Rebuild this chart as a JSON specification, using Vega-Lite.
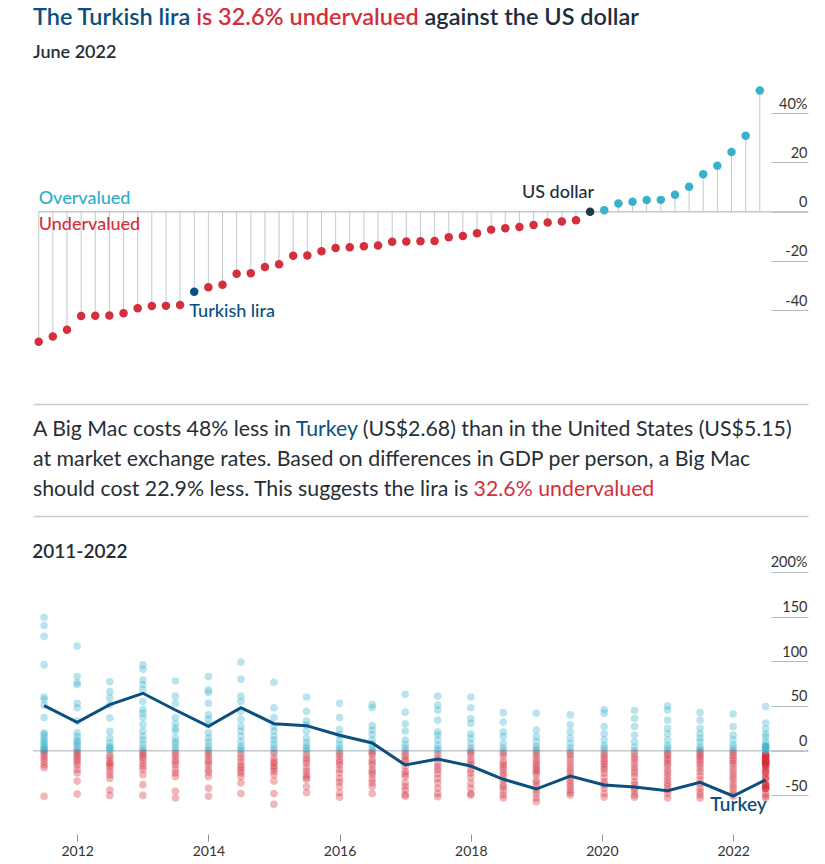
{
  "$schema": "https://vega.github.io/schema/vega-lite/v6.json",
  "padding": {"left": 32, "right": 18, "top": 0, "bottom": 0},
  "autosize": {"type": "pad"},
  "bounds": "flush",
  "spacing": 0,
  "config": {
    "view": {"stroke": null},
    "font": "Lato",
    "axis": {"grid": false, "title": null}
  },
  "datasets": {
    "june": [
      {"rank": 1, "value": -52.9}, {"rank": 2, "value": -50.8}, {"rank": 3, "value": -48.0},
      {"rank": 4, "value": -42.4}, {"rank": 5, "value": -42.3}, {"rank": 6, "value": -42.2},
      {"rank": 7, "value": -41.3}, {"rank": 8, "value": -39.3}, {"rank": 9, "value": -38.4},
      {"rank": 10, "value": -38.3}, {"rank": 11, "value": -37.9},
      {"rank": 12, "value": -32.6, "currency": "Turkish lira"},
      {"rank": 13, "value": -30.7}, {"rank": 14, "value": -29.7}, {"rank": 15, "value": -25.2},
      {"rank": 16, "value": -25.0}, {"rank": 17, "value": -22.5}, {"rank": 18, "value": -21.4},
      {"rank": 19, "value": -17.9}, {"rank": 20, "value": -17.8}, {"rank": 21, "value": -16.1},
      {"rank": 22, "value": -14.8}, {"rank": 23, "value": -14.5}, {"rank": 24, "value": -14.1},
      {"rank": 25, "value": -13.8}, {"rank": 26, "value": -12.2}, {"rank": 27, "value": -12.1},
      {"rank": 28, "value": -12.0}, {"rank": 29, "value": -11.9}, {"rank": 30, "value": -10.4},
      {"rank": 31, "value": -9.9}, {"rank": 32, "value": -8.8}, {"rank": 33, "value": -7.3},
      {"rank": 34, "value": -6.7}, {"rank": 35, "value": -6.2}, {"rank": 36, "value": -5.4},
      {"rank": 37, "value": -4.4}, {"rank": 38, "value": -4.0}, {"rank": 39, "value": -3.5},
      {"rank": 40, "value": 0, "currency": "US dollar"},
      {"rank": 41, "value": 0.6}, {"rank": 42, "value": 3.3}, {"rank": 43, "value": 4.0},
      {"rank": 44, "value": 4.7}, {"rank": 45, "value": 4.8}, {"rank": 46, "value": 6.9},
      {"rank": 47, "value": 10.1}, {"rank": 48, "value": 15.2}, {"rank": 49, "value": 18.7},
      {"rank": 50, "value": 24.3}, {"rank": 51, "value": 30.9}, {"rank": 52, "value": 49.3}
    ],
    "turkey": [
      {"date": "2011-07-01", "value": 50.4}, {"date": "2012-01-01", "value": 31.7},
      {"date": "2012-07-01", "value": 51.5}, {"date": "2013-01-01", "value": 64.2},
      {"date": "2013-07-01", "value": 45.5}, {"date": "2014-01-01", "value": 27.2},
      {"date": "2014-07-01", "value": 48.1}, {"date": "2015-01-01", "value": 30.2},
      {"date": "2015-07-01", "value": 28.0}, {"date": "2016-01-01", "value": 17.2},
      {"date": "2016-07-01", "value": 8.6}, {"date": "2017-01-01", "value": -16.0},
      {"date": "2017-07-01", "value": -9.3}, {"date": "2018-01-01", "value": -17.2},
      {"date": "2018-07-01", "value": -32.0}, {"date": "2019-01-01", "value": -42.9},
      {"date": "2019-07-09", "value": -28.4}, {"date": "2020-01-14", "value": -38.4},
      {"date": "2020-07-01", "value": -40.7}, {"date": "2021-01-01", "value": -44.8},
      {"date": "2021-07-01", "value": -35.4}, {"date": "2022-01-01", "value": -50.7},
      {"date": "2022-07-01", "value": -32.6, "label": "Turkey"}
    ],
    "history": [
      {"date":"2011-07-01","value":149},{"date":"2011-07-01","value":140},{"date":"2011-07-01","value":128},{"date":"2011-07-01","value":96},{"date":"2011-07-01","value":60},{"date":"2011-07-01","value":57},{"date":"2011-07-01","value":51},{"date":"2011-07-01","value":37},{"date":"2011-07-01","value":20},{"date":"2011-07-01","value":18},{"date":"2011-07-01","value":15},{"date":"2011-07-01","value":12},{"date":"2011-07-01","value":10},{"date":"2011-07-01","value":7},{"date":"2011-07-01","value":5},{"date":"2011-07-01","value":3},{"date":"2011-07-01","value":1},{"date":"2011-07-01","value":0},{"date":"2011-07-01","value":0},{"date":"2011-07-01","value":-3},{"date":"2011-07-01","value":-6},{"date":"2011-07-01","value":-9},{"date":"2011-07-01","value":-12},{"date":"2011-07-01","value":-16},{"date":"2011-07-01","value":-19},{"date":"2011-07-01","value":-51},
      {"date":"2012-01-01","value":117},{"date":"2012-01-01","value":83},{"date":"2012-01-01","value":76},{"date":"2012-01-01","value":74},{"date":"2012-01-01","value":53},{"date":"2012-01-01","value":48},{"date":"2012-01-01","value":33},{"date":"2012-01-01","value":20},{"date":"2012-01-01","value":16},{"date":"2012-01-01","value":12},{"date":"2012-01-01","value":10},{"date":"2012-01-01","value":8},{"date":"2012-01-01","value":5},{"date":"2012-01-01","value":2},{"date":"2012-01-01","value":0},{"date":"2012-01-01","value":-2},{"date":"2012-01-01","value":-4.5},{"date":"2012-01-01","value":-7.5},{"date":"2012-01-01","value":-10},{"date":"2012-01-01","value":-13},{"date":"2012-01-01","value":-16},{"date":"2012-01-01","value":-21},{"date":"2012-01-01","value":-25},{"date":"2012-01-01","value":-34},{"date":"2012-01-01","value":-48.5},
      {"date":"2012-07-01","value":77},{"date":"2012-07-01","value":66},{"date":"2012-07-01","value":59},{"date":"2012-07-01","value":51.5},{"date":"2012-07-01","value":36.6},{"date":"2012-07-01","value":21.6},{"date":"2012-07-01","value":14},{"date":"2012-07-01","value":8.6},{"date":"2012-07-01","value":5},{"date":"2012-07-01","value":3},{"date":"2012-07-01","value":2},{"date":"2012-07-01","value":0},{"date":"2012-07-01","value":-5},{"date":"2012-07-01","value":-8},{"date":"2012-07-01","value":-12},{"date":"2012-07-01","value":-14},{"date":"2012-07-01","value":-16},{"date":"2012-07-01","value":-19},{"date":"2012-07-01","value":-23},{"date":"2012-07-01","value":-27},{"date":"2012-07-01","value":-31},{"date":"2012-07-01","value":-44},{"date":"2012-07-01","value":-50},
      {"date":"2013-01-01","value":96},{"date":"2013-01-01","value":91},{"date":"2013-01-01","value":79},{"date":"2013-01-01","value":74},{"date":"2013-01-01","value":68},{"date":"2013-01-01","value":55},{"date":"2013-01-01","value":46},{"date":"2013-01-01","value":42},{"date":"2013-01-01","value":37},{"date":"2013-01-01","value":29},{"date":"2013-01-01","value":21.6},{"date":"2013-01-01","value":16},{"date":"2013-01-01","value":12},{"date":"2013-01-01","value":7},{"date":"2013-01-01","value":3},{"date":"2013-01-01","value":0},{"date":"2013-01-01","value":-2},{"date":"2013-01-01","value":-4.5},{"date":"2013-01-01","value":-7},{"date":"2013-01-01","value":-10},{"date":"2013-01-01","value":-14},{"date":"2013-01-01","value":-17.5},{"date":"2013-01-01","value":-21},{"date":"2013-01-01","value":-27},{"date":"2013-01-01","value":-38},{"date":"2013-01-01","value":-50},
      {"date":"2013-07-01","value":78},{"date":"2013-07-01","value":61},{"date":"2013-07-01","value":53},{"date":"2013-07-01","value":37},{"date":"2013-07-01","value":30},{"date":"2013-07-01","value":25},{"date":"2013-07-01","value":21.6},{"date":"2013-07-01","value":14},{"date":"2013-07-01","value":10},{"date":"2013-07-01","value":7},{"date":"2013-07-01","value":3},{"date":"2013-07-01","value":0},{"date":"2013-07-01","value":-3},{"date":"2013-07-01","value":-6},{"date":"2013-07-01","value":-10},{"date":"2013-07-01","value":-13},{"date":"2013-07-01","value":-16},{"date":"2013-07-01","value":-21},{"date":"2013-07-01","value":-25},{"date":"2013-07-01","value":-29},{"date":"2013-07-01","value":-45.5},{"date":"2013-07-01","value":-53},
      {"date":"2014-01-01","value":83},{"date":"2014-01-01","value":68},{"date":"2014-01-01","value":65},{"date":"2014-01-01","value":53},{"date":"2014-01-01","value":40},{"date":"2014-01-01","value":35},{"date":"2014-01-01","value":29},{"date":"2014-01-01","value":20},{"date":"2014-01-01","value":14},{"date":"2014-01-01","value":10},{"date":"2014-01-01","value":5},{"date":"2014-01-01","value":2},{"date":"2014-01-01","value":0},{"date":"2014-01-01","value":-3},{"date":"2014-01-01","value":-6},{"date":"2014-01-01","value":-10},{"date":"2014-01-01","value":-13},{"date":"2014-01-01","value":-16},{"date":"2014-01-01","value":-21},{"date":"2014-01-01","value":-24},{"date":"2014-01-01","value":-29},{"date":"2014-01-01","value":-42},{"date":"2014-01-01","value":-51},
      {"date":"2014-07-01","value":99},{"date":"2014-07-01","value":80},{"date":"2014-07-01","value":61},{"date":"2014-07-01","value":55},{"date":"2014-07-01","value":44},{"date":"2014-07-01","value":35},{"date":"2014-07-01","value":27},{"date":"2014-07-01","value":22},{"date":"2014-07-01","value":16},{"date":"2014-07-01","value":10},{"date":"2014-07-01","value":5},{"date":"2014-07-01","value":2},{"date":"2014-07-01","value":0},{"date":"2014-07-01","value":-4},{"date":"2014-07-01","value":-8},{"date":"2014-07-01","value":-12},{"date":"2014-07-01","value":-16},{"date":"2014-07-01","value":-19},{"date":"2014-07-01","value":-22},{"date":"2014-07-01","value":-25},{"date":"2014-07-01","value":-29},{"date":"2014-07-01","value":-36},{"date":"2014-07-01","value":-48},
      {"date":"2015-01-01","value":76.5},{"date":"2015-01-01","value":48},{"date":"2015-01-01","value":37},{"date":"2015-01-01","value":27},{"date":"2015-01-01","value":22},{"date":"2015-01-01","value":16},{"date":"2015-01-01","value":12},{"date":"2015-01-01","value":7},{"date":"2015-01-01","value":3},{"date":"2015-01-01","value":0},{"date":"2015-01-01","value":-3},{"date":"2015-01-01","value":-8},{"date":"2015-01-01","value":-12},{"date":"2015-01-01","value":-14},{"date":"2015-01-01","value":-17.5},{"date":"2015-01-01","value":-20},{"date":"2015-01-01","value":-23},{"date":"2015-01-01","value":-27},{"date":"2015-01-01","value":-34},{"date":"2015-01-01","value":-48},{"date":"2015-01-01","value":-60},
      {"date":"2015-07-01","value":60},{"date":"2015-07-01","value":44},{"date":"2015-07-01","value":33},{"date":"2015-07-01","value":29},{"date":"2015-07-01","value":22},{"date":"2015-07-01","value":14},{"date":"2015-07-01","value":9},{"date":"2015-07-01","value":5},{"date":"2015-07-01","value":2},{"date":"2015-07-01","value":0},{"date":"2015-07-01","value":-4},{"date":"2015-07-01","value":-8},{"date":"2015-07-01","value":-11},{"date":"2015-07-01","value":-14},{"date":"2015-07-01","value":-19},{"date":"2015-07-01","value":-23},{"date":"2015-07-01","value":-27},{"date":"2015-07-01","value":-30},{"date":"2015-07-01","value":-32},{"date":"2015-07-01","value":-40},{"date":"2015-07-01","value":-47},
      {"date":"2016-01-01","value":53},{"date":"2016-01-01","value":37},{"date":"2016-01-01","value":23.5},{"date":"2016-01-01","value":18},{"date":"2016-01-01","value":12},{"date":"2016-01-01","value":7},{"date":"2016-01-01","value":3},{"date":"2016-01-01","value":0},{"date":"2016-01-01","value":-3},{"date":"2016-01-01","value":-6},{"date":"2016-01-01","value":-10},{"date":"2016-01-01","value":-13},{"date":"2016-01-01","value":-16},{"date":"2016-01-01","value":-21},{"date":"2016-01-01","value":-25},{"date":"2016-01-01","value":-31},{"date":"2016-01-01","value":-35},{"date":"2016-01-01","value":-40},{"date":"2016-01-01","value":-47},{"date":"2016-01-01","value":-52},
      {"date":"2016-07-01","value":51.5},{"date":"2016-07-01","value":48},{"date":"2016-07-01","value":28},{"date":"2016-07-01","value":23},{"date":"2016-07-01","value":18},{"date":"2016-07-01","value":12},{"date":"2016-07-01","value":7},{"date":"2016-07-01","value":3},{"date":"2016-07-01","value":0},{"date":"2016-07-01","value":-2},{"date":"2016-07-01","value":-4.5},{"date":"2016-07-01","value":-10},{"date":"2016-07-01","value":-13},{"date":"2016-07-01","value":-16},{"date":"2016-07-01","value":-21},{"date":"2016-07-01","value":-24},{"date":"2016-07-01","value":-27},{"date":"2016-07-01","value":-32},{"date":"2016-07-01","value":-36},{"date":"2016-07-01","value":-40},{"date":"2016-07-01","value":-48},
      {"date":"2017-01-01","value":63},{"date":"2017-01-01","value":43},{"date":"2017-01-01","value":30},{"date":"2017-01-01","value":22},{"date":"2017-01-01","value":12},{"date":"2017-01-01","value":7},{"date":"2017-01-01","value":3},{"date":"2017-01-01","value":0},{"date":"2017-01-01","value":-3},{"date":"2017-01-01","value":-6},{"date":"2017-01-01","value":-10},{"date":"2017-01-01","value":-12},{"date":"2017-01-01","value":-17.5},{"date":"2017-01-01","value":-23},{"date":"2017-01-01","value":-26},{"date":"2017-01-01","value":-29},{"date":"2017-01-01","value":-36},{"date":"2017-01-01","value":-40},{"date":"2017-01-01","value":-44},{"date":"2017-01-01","value":-49},{"date":"2017-01-01","value":-51},
      {"date":"2017-07-01","value":61},{"date":"2017-07-01","value":51},{"date":"2017-07-01","value":45.5},{"date":"2017-07-01","value":34},{"date":"2017-07-01","value":21},{"date":"2017-07-01","value":17.5},{"date":"2017-07-01","value":12},{"date":"2017-07-01","value":6},{"date":"2017-07-01","value":2},{"date":"2017-07-01","value":0},{"date":"2017-07-01","value":-4},{"date":"2017-07-01","value":-8.6},{"date":"2017-07-01","value":-14},{"date":"2017-07-01","value":-18},{"date":"2017-07-01","value":-21.6},{"date":"2017-07-01","value":-26},{"date":"2017-07-01","value":-31},{"date":"2017-07-01","value":-36},{"date":"2017-07-01","value":-42},{"date":"2017-07-01","value":-48},{"date":"2017-07-01","value":-51.5},
      {"date":"2018-01-01","value":60},{"date":"2018-01-01","value":48},{"date":"2018-01-01","value":36},{"date":"2018-01-01","value":30.6},{"date":"2018-01-01","value":19},{"date":"2018-01-01","value":14},{"date":"2018-01-01","value":8},{"date":"2018-01-01","value":3},{"date":"2018-01-01","value":0},{"date":"2018-01-01","value":-2},{"date":"2018-01-01","value":-5},{"date":"2018-01-01","value":-10},{"date":"2018-01-01","value":-13},{"date":"2018-01-01","value":-16},{"date":"2018-01-01","value":-21.6},{"date":"2018-01-01","value":-25},{"date":"2018-01-01","value":-30},{"date":"2018-01-01","value":-36.6},{"date":"2018-01-01","value":-42},{"date":"2018-01-01","value":-48},{"date":"2018-01-01","value":-49.6},
      {"date":"2018-07-01","value":42.5},{"date":"2018-07-01","value":32},{"date":"2018-07-01","value":21},{"date":"2018-07-01","value":15.7},{"date":"2018-07-01","value":8},{"date":"2018-07-01","value":3},{"date":"2018-07-01","value":0},{"date":"2018-07-01","value":-3},{"date":"2018-07-01","value":-6},{"date":"2018-07-01","value":-12},{"date":"2018-07-01","value":-15},{"date":"2018-07-01","value":-18},{"date":"2018-07-01","value":-21},{"date":"2018-07-01","value":-25},{"date":"2018-07-01","value":-28},{"date":"2018-07-01","value":-33},{"date":"2018-07-01","value":-38},{"date":"2018-07-01","value":-41},{"date":"2018-07-01","value":-45},{"date":"2018-07-01","value":-49.6},{"date":"2018-07-01","value":-53},
      {"date":"2019-01-01","value":42},{"date":"2019-01-01","value":23},{"date":"2019-01-01","value":15.7},{"date":"2019-01-01","value":10},{"date":"2019-01-01","value":4.5},{"date":"2019-01-01","value":2},{"date":"2019-01-01","value":0},{"date":"2019-01-01","value":-3},{"date":"2019-01-01","value":-6},{"date":"2019-01-01","value":-10},{"date":"2019-01-01","value":-13},{"date":"2019-01-01","value":-16},{"date":"2019-01-01","value":-19},{"date":"2019-01-01","value":-21.6},{"date":"2019-01-01","value":-24},{"date":"2019-01-01","value":-27},{"date":"2019-01-01","value":-33},{"date":"2019-01-01","value":-36},{"date":"2019-01-01","value":-40},{"date":"2019-01-01","value":-44},{"date":"2019-01-01","value":-48},{"date":"2019-01-01","value":-53},{"date":"2019-01-01","value":-57},
      {"date":"2019-07-09","value":40},{"date":"2019-07-09","value":29},{"date":"2019-07-09","value":21},{"date":"2019-07-09","value":14},{"date":"2019-07-09","value":8},{"date":"2019-07-09","value":3},{"date":"2019-07-09","value":0},{"date":"2019-07-09","value":-3},{"date":"2019-07-09","value":-6},{"date":"2019-07-09","value":-10},{"date":"2019-07-09","value":-14},{"date":"2019-07-09","value":-18},{"date":"2019-07-09","value":-21.6},{"date":"2019-07-09","value":-25},{"date":"2019-07-09","value":-29},{"date":"2019-07-09","value":-33},{"date":"2019-07-09","value":-36.6},{"date":"2019-07-09","value":-40},{"date":"2019-07-09","value":-44},{"date":"2019-07-09","value":-47},{"date":"2019-07-09","value":-49.6},
      {"date":"2020-01-14","value":46},{"date":"2020-01-14","value":42},{"date":"2020-01-14","value":27},{"date":"2020-01-14","value":19},{"date":"2020-01-14","value":12},{"date":"2020-01-14","value":6},{"date":"2020-01-14","value":3},{"date":"2020-01-14","value":0},{"date":"2020-01-14","value":-3},{"date":"2020-01-14","value":-6},{"date":"2020-01-14","value":-9},{"date":"2020-01-14","value":-12},{"date":"2020-01-14","value":-15},{"date":"2020-01-14","value":-18},{"date":"2020-01-14","value":-21},{"date":"2020-01-14","value":-25},{"date":"2020-01-14","value":-30},{"date":"2020-01-14","value":-34.7},{"date":"2020-01-14","value":-38},{"date":"2020-01-14","value":-42},{"date":"2020-01-14","value":-48},{"date":"2020-01-14","value":-52},
      {"date":"2020-07-01","value":45},{"date":"2020-07-01","value":36},{"date":"2020-07-01","value":27},{"date":"2020-07-01","value":17.5},{"date":"2020-07-01","value":10},{"date":"2020-07-01","value":4},{"date":"2020-07-01","value":0},{"date":"2020-07-01","value":-3},{"date":"2020-07-01","value":-7},{"date":"2020-07-01","value":-10},{"date":"2020-07-01","value":-14},{"date":"2020-07-01","value":-18},{"date":"2020-07-01","value":-21.6},{"date":"2020-07-01","value":-25},{"date":"2020-07-01","value":-29},{"date":"2020-07-01","value":-34.7},{"date":"2020-07-01","value":-38},{"date":"2020-07-01","value":-42},{"date":"2020-07-01","value":-45},{"date":"2020-07-01","value":-49.6},{"date":"2020-07-01","value":-52},
      {"date":"2021-01-01","value":50},{"date":"2021-01-01","value":45.5},{"date":"2021-01-01","value":34},{"date":"2021-01-01","value":25},{"date":"2021-01-01","value":19},{"date":"2021-01-01","value":12},{"date":"2021-01-01","value":6},{"date":"2021-01-01","value":3},{"date":"2021-01-01","value":0},{"date":"2021-01-01","value":-3},{"date":"2021-01-01","value":-5},{"date":"2021-01-01","value":-8.6},{"date":"2021-01-01","value":-11},{"date":"2021-01-01","value":-14},{"date":"2021-01-01","value":-17},{"date":"2021-01-01","value":-21.6},{"date":"2021-01-01","value":-25},{"date":"2021-01-01","value":-29},{"date":"2021-01-01","value":-33},{"date":"2021-01-01","value":-36.6},{"date":"2021-01-01","value":-40},{"date":"2021-01-01","value":-44},{"date":"2021-01-01","value":-48},{"date":"2021-01-01","value":-53},
      {"date":"2021-07-01","value":42.5},{"date":"2021-07-01","value":34},{"date":"2021-07-01","value":25},{"date":"2021-07-01","value":19},{"date":"2021-07-01","value":14},{"date":"2021-07-01","value":10},{"date":"2021-07-01","value":4.5},{"date":"2021-07-01","value":2},{"date":"2021-07-01","value":0},{"date":"2021-07-01","value":-2},{"date":"2021-07-01","value":-5},{"date":"2021-07-01","value":-7},{"date":"2021-07-01","value":-10},{"date":"2021-07-01","value":-13},{"date":"2021-07-01","value":-16},{"date":"2021-07-01","value":-20},{"date":"2021-07-01","value":-23.5},{"date":"2021-07-01","value":-28},{"date":"2021-07-01","value":-33},{"date":"2021-07-01","value":-37},{"date":"2021-07-01","value":-42},{"date":"2021-07-01","value":-46},{"date":"2021-07-01","value":-49.6},{"date":"2021-07-01","value":-53},
      {"date":"2022-01-01","value":41},{"date":"2022-01-01","value":27},{"date":"2022-01-01","value":17.5},{"date":"2022-01-01","value":12},{"date":"2022-01-01","value":6},{"date":"2022-01-01","value":3},{"date":"2022-01-01","value":0},{"date":"2022-01-01","value":-2},{"date":"2022-01-01","value":-5},{"date":"2022-01-01","value":-8.6},{"date":"2022-01-01","value":-11},{"date":"2022-01-01","value":-14},{"date":"2022-01-01","value":-17},{"date":"2022-01-01","value":-21.6},{"date":"2022-01-01","value":-25},{"date":"2022-01-01","value":-29},{"date":"2022-01-01","value":-32},{"date":"2022-01-01","value":-36.6},{"date":"2022-01-01","value":-40},{"date":"2022-01-01","value":-44},{"date":"2022-01-01","value":-48},{"date":"2022-01-01","value":-51}
    ]
  },
  "vconcat": [
    {
      "width": 775,
      "height": 71,
      "encoding": {
        "x": {"datum": 0, "type": "quantitative", "scale": {"domain": [0, 1]}, "axis": null},
        "y": {"field": "row", "type": "ordinal", "scale": {"type": "point", "domain": ["title", "subtitle"], "padding": 0.514}, "axis": null},
        "text": {"field": "text"}
      },
      "layer": [
        {
          "data": {"values": [{"row": "title", "text": "The Turkish lira is 32.6% undervalued against the US dollar"}]},
          "mark": {"type": "text", "align": "left", "baseline": "middle", "fontSize": 23.5, "fontWeight": 600, "color": "#1f2e3a"}
        },
        {
          "data": {"values": [{"row": "title", "text": "The Turkish lira is 32.6% undervalued"}]},
          "mark": {"type": "text", "align": "left", "baseline": "middle", "fontSize": 23.5, "fontWeight": 600, "color": "#ffffff", "stroke": "#ffffff", "strokeWidth": 2.5}
        },
        {
          "data": {"values": [{"row": "title", "text": "The Turkish lira is 32.6% undervalued"}]},
          "mark": {"type": "text", "align": "left", "baseline": "middle", "fontSize": 23.5, "fontWeight": 600, "color": "#d32f3c"}
        },
        {
          "data": {"values": [{"row": "title", "text": "The Turkish lira"}]},
          "mark": {"type": "text", "align": "left", "baseline": "middle", "fontSize": 23.5, "fontWeight": 600, "color": "#ffffff", "stroke": "#ffffff", "strokeWidth": 2.5}
        },
        {
          "data": {"values": [{"row": "title", "text": "The Turkish lira"}]},
          "mark": {"type": "text", "align": "left", "baseline": "middle", "fontSize": 23.5, "fontWeight": 600, "color": "#0b4f80"}
        },
        {
          "data": {"values": [{"row": "subtitle", "text": "June 2022"}]},
          "mark": {"type": "text", "align": "left", "baseline": "middle", "fontSize": 18, "fontWeight": 600, "color": "#1f2e3a"}
        }
      ]
    },
    {
      "width": 775,
      "height": 333,
      "data": {"name": "june"},
      "encoding": {
        "x": {"field": "rank", "type": "quantitative", "scale": {"domain": [0.597, 55.41]},
          "axis": {"orient": "bottom", "domain": true, "domainColor": "#c8cdd1", "domainWidth": 1.5, "ticks": false, "labels": false}}
      },
      "layer": [
        {
          "mark": {"type": "rule", "color": "#c3c9ce", "strokeWidth": 1},
          "encoding": {
            "y": {"field": "value", "type": "quantitative", "scale": {"domain": [-78.2, 57.2], "nice": false},
              "axis": {"orient": "right", "values": [-40, -20, 0, 20, 40], "offset": -37, "tickSize": 37, "tickColor": "#b4bbc0", "domain": false,
                "labelAlign": "right", "labelBaseline": "bottom", "labelPadding": -1, "labelOffset": -2, "labelFontSize": 14.5, "labelColor": "#333333",
                "labelExpr": "datum.value == 40 ? '40%' : '' + datum.value"}},
            "y2": {"datum": 0}
          }
        },
        {
          "transform": [{"filter": "datum.rank === 1"}],
          "mark": {"type": "rule", "color": "#c3c9ce", "strokeWidth": 1.5},
          "encoding": {"x2": {"datum": 55.41}, "y": {"datum": 0}}
        },
        {
          "mark": {"type": "circle", "size": 72, "opacity": 1},
          "encoding": {
            "y": {"field": "value", "type": "quantitative"},
            "color": {
              "condition": [
                {"test": "datum.currency === 'Turkish lira'", "value": "#0b4f80"},
                {"test": "datum.currency === 'US dollar'", "value": "#263845"},
                {"test": "datum.value > 0", "value": "#36b3cb"}
              ],
              "value": "#d32f3c"
            }
          }
        },
        {
          "transform": [{"filter": "datum.currency === 'Turkish lira'"}],
          "mark": {"type": "text", "align": "left", "baseline": "middle", "dx": -5, "dy": 20, "fontSize": 18, "fontWeight": 500, "color": "#0b4f80"},
          "encoding": {"y": {"field": "value", "type": "quantitative"}, "text": {"field": "currency"}}
        },
        {
          "transform": [{"filter": "datum.currency === 'US dollar'"}],
          "mark": {"type": "text", "align": "right", "baseline": "middle", "dx": 4, "dy": -19, "fontSize": 18, "fontWeight": 500, "color": "#1f2e3a"},
          "encoding": {"y": {"field": "value", "type": "quantitative"}, "text": {"field": "currency"}}
        },
        {
          "transform": [{"filter": "datum.rank === 1"}],
          "mark": {"type": "text", "align": "left", "baseline": "bottom", "dy": -4, "fontSize": 18, "fontWeight": 500, "color": "#2eaec8"},
          "encoding": {"y": {"datum": 0}, "text": {"value": "Overvalued"}}
        },
        {
          "transform": [{"filter": "datum.rank === 1"}],
          "mark": {"type": "text", "align": "left", "baseline": "top", "dy": 4, "fontSize": 18, "fontWeight": 500, "color": "#d32f3c"},
          "encoding": {"y": {"datum": 0}, "text": {"value": "Undervalued"}}
        }
      ]
    },
    {
      "width": 775,
      "height": 112,
      "encoding": {
        "x": {"datum": 0, "type": "quantitative", "scale": {"domain": [0, 1]},
          "axis": {"orient": "bottom", "domain": true, "domainColor": "#c8cdd1", "domainWidth": 1.5, "ticks": false, "labels": false}},
        "y": {"field": "line", "type": "ordinal", "scale": {"type": "point", "domain": ["1", "2", "3"], "padding": 0.867}, "axis": null},
        "text": {"field": "text"}
      },
      "layer": [
        {
          "data": {"values": [{"line": "1", "text": "A Big Mac costs 48% less in Turkey (US$2.68) than in the United States (US$5.15)"}]},
          "mark": {"type": "text", "align": "left", "baseline": "middle", "fontSize": 21.3, "color": "#262f36"}
        },
        {
          "data": {"values": [{"line": "1", "text": "A Big Mac costs 48% less in Turkey"}]},
          "mark": {"type": "text", "align": "left", "baseline": "middle", "fontSize": 21.3, "color": "#ffffff", "stroke": "#ffffff", "strokeWidth": 2.5}
        },
        {
          "data": {"values": [{"line": "1", "text": "A Big Mac costs 48% less in Turkey"}]},
          "mark": {"type": "text", "align": "left", "baseline": "middle", "fontSize": 21.3, "color": "#0b4f80"}
        },
        {
          "data": {"values": [{"line": "1", "text": "A Big Mac costs 48% less in"}]},
          "mark": {"type": "text", "align": "left", "baseline": "middle", "fontSize": 21.3, "color": "#ffffff", "stroke": "#ffffff", "strokeWidth": 2.5}
        },
        {
          "data": {"values": [{"line": "1", "text": "A Big Mac costs 48% less in"}]},
          "mark": {"type": "text", "align": "left", "baseline": "middle", "fontSize": 21.3, "color": "#262f36"}
        },
        {
          "data": {"values": [{"line": "2", "text": "at market exchange rates. Based on differences in GDP per person, a Big Mac"}]},
          "mark": {"type": "text", "align": "left", "baseline": "middle", "fontSize": 21.3, "color": "#262f36"}
        },
        {
          "data": {"values": [{"line": "3", "text": "should cost 22.9% less. This suggests the lira is 32.6% undervalued"}]},
          "mark": {"type": "text", "align": "left", "baseline": "middle", "fontSize": 21.3, "color": "#d32f3c"}
        },
        {
          "data": {"values": [{"line": "3", "text": "should cost 22.9% less. This suggests the lira is"}]},
          "mark": {"type": "text", "align": "left", "baseline": "middle", "fontSize": 21.3, "color": "#ffffff", "stroke": "#ffffff", "strokeWidth": 2.5}
        },
        {
          "data": {"values": [{"line": "3", "text": "should cost 22.9% less. This suggests the lira is"}]},
          "mark": {"type": "text", "align": "left", "baseline": "middle", "fontSize": 21.3, "color": "#262f36"}
        }
      ]
    },
    {
      "width": 775,
      "height": 318,
      "title": {"text": "2011-2022", "anchor": "start", "orient": "top", "offset": -46, "fontSize": 19, "fontWeight": 600, "color": "#1f2e3a", "font": "Lato"},
      "layer": [
        {
          "data": {"values": [{}]},
          "mark": {"type": "rule", "color": "#c3c9ce", "strokeWidth": 1.5},
          "encoding": {"y": {"datum": 0}}
        },
        {
          "data": {"name": "history"},
          "mark": {"type": "circle", "size": 58, "opacity": 0.35},
          "encoding": {
            "x": {"field": "date", "type": "temporal",
              "scale": {"domain": [{"year": 2011, "month": 4, "date": 30}, {"year": 2023, "month": 2, "date": 22}]},
              "axis": {"orient": "bottom", "domain": false, "tickCount": {"interval": "year", "step": 2}, "format": "%Y", "tickSize": 7, "tickColor": "#8a9299", "labelFontSize": 14, "labelColor": "#333333", "labelPadding": 3}},
            "y": {"field": "value", "type": "quantitative", "scale": {"domain": [-93.2, 262.5], "nice": false},
              "axis": {"orient": "right", "values": [-50, 0, 50, 100, 150, 200], "offset": -37, "tickSize": 37, "tickColor": "#b4bbc0", "domain": false,
                "labelAlign": "right", "labelBaseline": "bottom", "labelPadding": -1, "labelOffset": -2, "labelFontSize": 14.5, "labelColor": "#333333",
                "labelExpr": "datum.value == 200 ? '200%' : '' + datum.value"}},
            "color": {"condition": {"test": "datum.value >= 0", "value": "#36b3cb"}, "value": "#d32f3c"}
          }
        },
        {
          "data": {"name": "june"},
          "mark": {"type": "circle", "size": 58, "opacity": 0.35},
          "encoding": {
            "x": {"datum": {"year": 2022, "month": 7, "date": 1}, "type": "temporal"},
            "y": {"field": "value", "type": "quantitative"},
            "color": {"condition": {"test": "datum.value >= 0", "value": "#36b3cb"}, "value": "#d32f3c"}
          }
        },
        {
          "data": {"name": "turkey"},
          "mark": {"type": "line", "color": "#0b4f80", "strokeWidth": 3},
          "encoding": {
            "x": {"field": "date", "type": "temporal"},
            "y": {"field": "value", "type": "quantitative"}
          }
        },
        {
          "data": {"name": "turkey"},
          "transform": [{"filter": "isValid(datum.label)"}],
          "mark": {"type": "text", "align": "right", "baseline": "middle", "dx": 1, "dy": 25, "fontSize": 19, "fontWeight": 600, "color": "#0b4f80"},
          "encoding": {
            "x": {"field": "date", "type": "temporal"},
            "y": {"field": "value", "type": "quantitative"},
            "text": {"field": "label"}
          }
        }
      ]
    }
  ]
}
